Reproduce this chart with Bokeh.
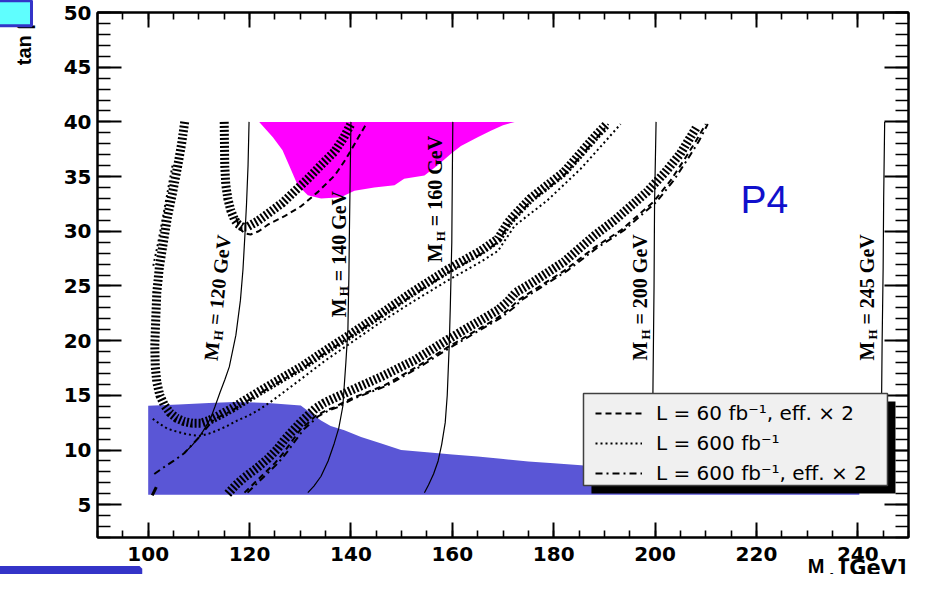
import numpy as np
from bokeh.plotting import figure
from bokeh.models import (Range1d, LinearAxis, SingleIntervalTicker, Label, BoxAnnotation,
                          Legend, LegendItem, CustomJSTickFormatter, Title)
from bokeh.embed import file_html
from bokeh.resources import INLINE

# ---------------- data ----------------
x_range = (90, 250)
y_range = (2, 50)

blue_x = [100, 106, 112, 117, 123.6, 130.1, 132, 134.1, 136, 138.7, 142, 146, 149.9, 155, 160,
          165, 169.6, 175, 180, 185.4, 190, 200, 210, 220, 230, 240.3, 240.3, 100]
blue_y = [14.05, 14.15, 14.3, 14.4, 14.3, 14.08, 13.4, 12.7, 12.2, 11.8, 11.2, 10.6, 10.0, 9.8, 9.6,
          9.4, 9.2, 8.95, 8.8, 8.6, 8.4, 8.1, 7.7, 7.3, 7.0, 6.8, 5.9, 5.9]

magenta_x = [121.9, 124.6, 126.5, 128.2, 129.5, 131.5, 134.1, 138.0, 140.7, 144.6, 148.6, 150.5,
             154.5, 157.0, 159.8, 161.7, 165.0, 167.6, 170.0, 172.3]
magenta_y = [40.0, 38.6, 37.4, 35.6, 34.2, 33.3, 33.0, 33.1, 33.7, 34.0, 34.2, 34.8,
             35.1, 36.0, 37.1, 37.8, 38.6, 39.2, 39.7, 40.0]

mh120_x = [119.9, 119.7, 119.4, 119.1, 118.7, 118.2, 117.3, 116.0, 115.1, 114.2, 113.2, 112.4, 111.2, 110.1, 108.6, 107.1]
mh120_y = [40.0, 36.0, 32.5, 29.8, 26.5, 23.7, 20.5, 17.6, 16.4, 15.3, 14.0, 13.0, 12.0, 11.2, 10.4, 9.7]
mh140_x = [140.0, 139.85, 139.7, 139.6, 139.4, 139.0, 138.4, 137.6, 136.7, 135.5, 134.1, 132.7, 131.5]
mh140_y = [40.0, 35.0, 30.0, 26.0, 21.0, 18.0, 14.0, 12.0, 10.6, 9.0, 7.6, 6.7, 6.1]
mh160_x = [160.1, 160.0, 159.9, 159.6, 159.4, 159.0, 158.6, 157.9, 157.2, 156.3, 155.3, 154.5]
mh160_y = [40.0, 35.0, 29.0, 23.0, 19.7, 15.0, 12.5, 10.5, 9.0, 7.8, 6.8, 6.1]
mh200_x = [200.2, 200.0, 199.9, 199.8, 199.6, 199.4]
mh200_y = [40.0, 35.0, 32.5, 25.0, 16.4, 6.1]
mh245_x = [245.3, 245.1, 245.0, 244.8, 244.7, 244.5]
mh245_y = [40.0, 33.0, 26.7, 20.0, 15.1, 6.1]
mh_masses = ["120", "140", "160", "200", "245"]
mh_label_x = [112.29, 137.6, 156.68, 197.12, 241.84]
mh_label_y = [18.18, 22.14, 27.17, 18.18, 18.18]
mh_label_angle = [84, 90, 90, 90, 90]

hatchA_x = [107.2, 106.6, 105.8, 104.8, 103.8, 103.0, 102.2, 101.7, 101.5, 101.3, 101.4, 101.7, 102.3,
            103.2, 104.3, 105.6, 107.1, 108.7, 110.4, 112.0, 113.7, 116.5, 120.3, 125.0, 130.2, 135.0,
            140.0, 145.9, 152.0, 159.1, 165.6, 169.0, 171.0, 172.5, 175.4, 182.0, 188.6, 190.5]
hatchA_y = [40.0, 38.0, 35.9, 33.5, 31.3, 29.0, 26.7, 24.4, 22.1, 19.5, 17.6, 16.2, 15.0,
            14.1, 13.4, 12.9, 12.6, 12.45, 12.45, 12.7, 13.1, 13.8, 14.9, 16.2, 17.6, 19.1,
            20.6, 22.45, 24.4, 26.5, 28.2, 29.3, 30.8, 31.6, 33.0, 35.4, 38.9, 39.8]
hatchD_x = [115.0, 115.05, 115.1, 115.3, 115.7, 116.3, 117.0, 117.6, 118.5, 119.6, 121.5, 123.6,
            126.5, 129.0, 131.5, 134.0, 136.8, 138.5, 140.0]
hatchD_y = [40.0, 38.0, 36.0, 34.3, 33.0, 31.9, 31.1, 30.7, 30.4, 30.4, 30.9, 31.6,
            32.6, 33.7, 34.8, 36.0, 37.3, 38.5, 39.8]
hatchE_x = [115.7, 117.3, 119.0, 121.3, 123.6, 125.5, 127.0, 128.6, 130.2, 131.6, 133.0, 134.7, 136.5,
            140.0, 146.0, 152.5, 159.1, 165.0, 169.0, 171.0, 172.5, 175.4, 182.0, 188.0, 192.0,
            198.4, 202.0, 205.0, 208.3]
hatchE_y = [6.0, 6.8, 7.5, 8.3, 9.2, 10.1, 11.0, 11.8, 12.6, 13.2, 13.8, 14.3, 14.7,
            15.45, 16.7, 18.2, 20.1, 21.7, 22.8, 23.6, 24.4, 25.2, 27.2, 29.6, 31.0,
            33.6, 35.4, 37.1, 39.6]
edge_mark_x = [100.8, 101.6]
edge_mark_y = [5.85, 6.6]

dashD_x = [117.4, 118.0, 119.0, 120.2, 121.8, 123.6, 127.0, 130.2, 133.5, 136.8, 139.0, 141.0, 143.0]
dashD_y = [31.2, 30.3, 29.8, 29.7, 30.0, 30.6, 31.4, 32.3, 33.6, 35.1, 36.6, 38.2, 39.8]
dashE_x = [119.0, 121.0, 123.0, 125.0, 126.8, 128.5, 130.1, 131.6, 133.0, 135.0, 136.7, 140.0, 146.6,
           153.0, 159.1, 165.0, 169.0, 171.5, 173.0, 176.0, 182.1, 188.0, 193.3, 197.0, 199.7,
           203.0, 205.7, 208.0, 210.0]
dashE_y = [6.1, 7.0, 7.9, 8.8, 9.8, 10.9, 11.9, 12.5, 13.1, 13.6, 13.9, 14.7, 15.9,
           17.6, 19.4, 21.0, 22.1, 23.0, 23.7, 24.6, 26.4, 28.5, 30.1, 31.6, 32.7,
           34.6, 36.5, 38.2, 39.8]

dotA1_x = [104.8, 104.0, 103.0, 102.0, 101.3, 100.9]
dotA1_y = [36.0, 34.0, 31.5, 29.0, 27.5, 26.6]
dotA2_x = [100.9, 102.4, 103.8, 105.5, 107.1, 108.8, 110.4, 112.0, 113.7, 115.6, 117.6, 119.6, 121.6,
           124.0, 126.2, 130.2, 135.0, 140.0, 145.9, 152.0, 159.1, 165.6, 169.0, 172.3, 178.7,
           185.3, 189.0, 193.2]
dotA2_y = [12.85, 12.35, 11.95, 11.7, 11.5, 11.35, 11.3, 11.5, 11.8, 12.2, 12.7, 13.1, 13.6,
           14.35, 15.1, 16.5, 18.2, 19.8, 21.7, 23.5, 25.5, 27.2, 28.2, 30.5, 32.8,
           35.7, 37.6, 39.8]

ddA_x = [101.2, 103.0, 105.0, 107.1, 108.7, 110.1, 111.5, 113.0, 116.5, 120.3, 125.0, 130.2, 135.0,
         140.0, 145.9, 152.0, 159.1, 165.6, 169.0, 171.0, 172.5, 175.4, 182.0, 188.6, 190.8]
ddA_y = [7.8, 8.4, 9.0, 9.7, 10.5, 11.2, 12.0, 12.8, 13.6, 14.7, 16.0, 17.4, 18.9,
         20.4, 22.2, 24.1, 26.2, 27.9, 29.0, 30.5, 31.3, 32.7, 35.1, 38.6, 39.8]
ddE_x = [119.6, 121.6, 123.6, 125.6, 127.4, 129.1, 130.7, 132.2, 133.6, 135.6, 137.3, 140.6, 147.2,
         153.6, 159.7, 165.6, 169.6, 172.1, 173.6, 176.6, 182.7, 188.6, 193.9, 197.6, 200.3,
         203.6, 206.3, 208.6, 210.4]
ddE_y = [6.1, 7.0, 7.9, 8.8, 9.8, 10.9, 11.9, 12.5, 13.1, 13.6, 13.9, 14.7, 15.9,
         17.6, 19.4, 21.0, 22.1, 23.0, 23.7, 24.6, 26.4, 28.5, 30.1, 31.6, 32.7,
         34.6, 36.5, 38.2, 39.8]

legend_labels = ["L = 60 fb\u207b\u00b9, eff. \u00d7 2", "L = 600 fb\u207b\u00b9",
                 "L = 600 fb\u207b\u00b9, eff. \u00d7 2"]
y_title = "tan \u03b2"
x_title_parts = ["M", "A", "[GeV]"]

# ---------------- figure ----------------
p = figure(width=910, height=574, x_range=Range1d(*x_range), y_range=Range1d(*y_range),
           output_backend="svg", toolbar_location=None,
           x_axis_location=None, y_axis_location=None,
           min_border_left=97, min_border_right=2, min_border_top=12, min_border_bottom=37,
           background_fill_color="white", border_fill_color="white")
p.xgrid.visible = False
p.ygrid.visible = False
p.outline_line_color = "black"
p.outline_line_width = 2

xt = SingleIntervalTicker(interval=20, num_minor_ticks=4)
yt = SingleIntervalTicker(interval=5, num_minor_ticks=5)
bottom_ax = LinearAxis(ticker=xt)
left_ax = LinearAxis(ticker=yt)
top_ax = LinearAxis(ticker=xt)
right_ax = LinearAxis(ticker=yt)
p.add_layout(bottom_ax, "below")
p.add_layout(left_ax, "left")
p.add_layout(top_ax, "above")
p.add_layout(right_ax, "right")

for ax in [bottom_ax, top_ax]:
    ax.major_tick_in = 15
    ax.minor_tick_in = 7
for ax in [left_ax, right_ax]:
    ax.major_tick_in = 24
    ax.minor_tick_in = 13
for ax in [bottom_ax, top_ax, left_ax, right_ax]:
    ax.major_tick_out = 0
    ax.minor_tick_out = 0
    ax.axis_line_width = 2
    ax.major_tick_line_width = 2
    ax.minor_tick_line_width = 1.6
    ax.axis_line_color = "black"
    ax.major_tick_line_color = "black"
    ax.minor_tick_line_color = "black"
    ax.major_label_text_font = "DejaVu Sans"
    ax.major_label_text_font_style = "bold"
    ax.major_label_text_font_size = "20px"
    ax.major_label_text_color = "black"
for ax in [top_ax, right_ax]:
    ax.formatter = CustomJSTickFormatter(code="return ''")
    ax.major_label_text_font_size = "1px"
    ax.major_label_standoff = 0
bottom_ax.major_label_standoff = 9
left_ax.major_label_standoff = 6

# y-axis title at the top end of the axis (trailing fixed-width spaces push it down)
left_ax.axis_label = y_title + "\u2003\u2002" + "\u00a0" * 5
left_ax.axis_label_text_font = "Liberation Sans"
left_ax.axis_label_text_font_style = "bold"
left_ax.axis_label_text_font_size = "20px"
left_ax.axis_label_text_color = "black"
left_ax.axis_label_standoff = 26
try:
    left_ax.axis_label_align = "end"
except Exception:
    pass


def add_title(place, text, font, size, align, offset, valign, standoff, **extra):
    try:
        t = Title(text=text, align=align, vertical_align=valign, offset=offset,
                  text_font=font, text_font_style="bold", text_font_size=size,
                  text_color="black", **extra)
    except Exception:
        return
    try:
        t.standoff = standoff
    except Exception:
        t.standoff = 0
    p.add_layout(t, place)


# x-axis title below, right-aligned (subscript A mostly falls off the bottom, as in the original)
add_title("below", x_title_parts[0], "Liberation Sans", "20px", "right", 84, "middle", -20.5)
add_title("below", x_title_parts[2], "DejaVu Sans", "21px", "right", 2, "middle", -25)
add_title("below", "\n" + x_title_parts[1], "Liberation Sans", "13px", "right", 72, "bottom", -31)

# fragments of the neighbouring pads seen at the image corners
add_title("above", "\u2003\u2003", "DejaVu Sans", "22px", "left", -110, "bottom", -26.6,
          background_fill_color="#5ffefe", border_line_color="#3434c8", border_line_width=3)
add_title("below", "\u2003" * 37, "DejaVu Sans", "4px", "left", -106, "bottom", -6.5,
          background_fill_color="#5ffefe", border_line_color="#3434c8", border_line_width=5.5)

p.patch(blue_x, blue_y, fill_color="#5a56d6", line_color=None)
p.patch(magenta_x, magenta_y, fill_color="#ff00ff", line_color=None)

for xs, ys in [(mh120_x, mh120_y), (mh140_x, mh140_y), (mh160_x, mh160_y),
               (mh200_x, mh200_y), (mh245_x, mh245_y)]:
    p.line(xs, ys, line_color="black", line_width=1.2)

for xs, ys in [(hatchA_x, hatchA_y), (hatchD_x, hatchD_y), (hatchE_x, hatchE_y)]:
    p.line(xs, ys, line_color="black", line_width=9, line_dash="2 2")
p.line(edge_mark_x, edge_mark_y, line_color="black", line_width=3)

r_dash = p.line(dashD_x, dashD_y, line_color="black", line_width=2, line_dash="6 4")
p.line(dashE_x, dashE_y, line_color="black", line_width=2, line_dash="6 4")
r_dot = p.line(dotA1_x, dotA1_y, line_color="black", line_width=2, line_dash="2 3")
p.line(dotA2_x, dotA2_y, line_color="black", line_width=2, line_dash="2 3")
r_dd = p.line(ddA_x, ddA_y, line_color="black", line_width=2, line_dash="7 4 2 4")
p.line(ddE_x, ddE_y, line_color="black", line_width=2, line_dash="7 4 2 4")

for m, lx, ly, ang in zip(mh_masses, mh_label_x, mh_label_y, mh_label_angle):
    th = np.radians(ang)
    c, s = float(np.cos(th)), float(np.sin(th))
    common = dict(x=lx, y=ly, angle=th, text_font="Liberation Serif", text_font_style="bold",
                  text_color="black", text_baseline="alphabetic", text_align="left")
    p.add_layout(Label(text="M", text_font_size="20px", **common))
    p.add_layout(Label(text="H", text_font_size="13px", x_offset=21 * c + 5 * s,
                       y_offset=21 * s - 5 * c, **common))
    p.add_layout(Label(text=f"= {m} GeV", text_font_size="20px", x_offset=36 * c,
                       y_offset=36 * s, **common))

p.add_layout(Label(x=216.85, y=30.92, text="P4", text_font="Liberation Sans",
                   text_font_size="39px", text_color="#1010cc"))

# legend box with shadow
p.add_layout(BoxAnnotation(left=187.45, right=247.43, top=14.43, bottom=6.02, fill_color="black",
                           fill_alpha=1, line_alpha=0))
p.add_layout(BoxAnnotation(left=185.88, right=245.85, top=15.17, bottom=6.755, fill_color="#f0f0f0",
                           fill_alpha=1, line_color="#404040", line_width=1.5, line_alpha=1))
legend = Legend(items=[LegendItem(label=legend_labels[0], renderers=[r_dash]),
                       LegendItem(label=legend_labels[1], renderers=[r_dot]),
                       LegendItem(label=legend_labels[2], renderers=[r_dd])],
                location=(498, 49.5), orientation="vertical", glyph_width=47, glyph_height=30,
                label_height=30, label_standoff=14, spacing=0, padding=0, margin=0,
                background_fill_alpha=0, border_line_alpha=0,
                label_text_font="DejaVu Sans", label_text_font_size="20px",
                label_text_color="black")
p.add_layout(legend)

open("out.html", "w").write(file_html(p, INLINE))
